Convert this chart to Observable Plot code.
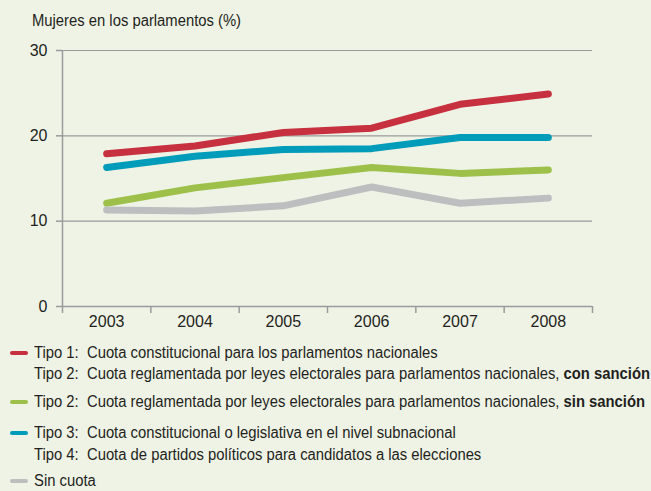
<!DOCTYPE html>
<html>
<head>
<meta charset="utf-8">
<script src="https://cdn.jsdelivr.net/npm/d3@7"></script>
<script src="https://cdn.jsdelivr.net/npm/@observablehq/plot@0.6"></script>
<style>
  html, body { margin: 0; padding: 0; background: #eff3e6; }
  body { width: 651px; height: 491px; overflow: hidden; position: relative;
         font-family: "Liberation Sans", Arial, sans-serif; color: #231f20; }
  #title { position: absolute; left: 32px; top: 12px; font-size: 16px; white-space: nowrap; transform-origin: 0 50%; }
  #chart { position: absolute; left: 0; top: 0; }
  .row { position: absolute; left: 10px; font-size: 16px; white-space: nowrap; display: flex; align-items: center; }
  .sw { display: inline-block; width: 18px; height: 4px; border-radius: 2px; margin-right: 6px; }
  .txt { display: inline-block; transform-origin: 0 50%; }
  b { font-weight: bold; }
</style>
</head>
<body>
<div id="chart"></div>
<div id="title">Mujeres en los parlamentos (%)</div>
<div id="legend"></div>
<script>
const years = [2003, 2004, 2005, 2006, 2007, 2008];
const tipo1 = [17.9, 18.8, 20.4, 20.9, 23.7, 24.9];
const tipo3 = [16.3, 17.6, 18.4, 18.5, 19.8, 19.8];
const tipo2sin = [12.1, 13.9, 15.1, 16.3, 15.6, 16.0];
const sinCuota = [11.3, 11.2, 11.8, 14.0, 12.1, 12.7];
const yTicks = [0, 10, 20, 30];

const series = [
  {key: "Tipo 1", values: tipo1, color: "#c6303f"},
  {key: "Tipo 3", values: tipo3, color: "#009cba"},
  {key: "Tipo 2 sin", values: tipo2sin, color: "#9dc04b"},
  {key: "Sin cuota", values: sinCuota, color: "#bdbec0"}
];
const data = series.flatMap(s => s.values.map((v, i) => ({year: years[i], value: v, key: s.key})));
const bounds = [...years.map(y => y - 0.5), years[years.length - 1] + 0.5];

const legendRows = [
  {color: "#c6303f", text: "Tipo 1:&nbsp; Cuota constitucional para los parlamentos nacionales"},
  {color: null, text: "Tipo 2:&nbsp; Cuota reglamentada por leyes electorales para parlamentos nacionales, <b>con sanción</b>"},
  {color: "#9dc04b", text: "Tipo 2:&nbsp; Cuota reglamentada por leyes electorales para parlamentos nacionales, <b>sin sanción</b>"},
  {color: "#009cba", text: "Tipo 3:&nbsp; Cuota constitucional o legislativa en el nivel subnacional"},
  {color: null, text: "Tipo 4:&nbsp; Cuota de partidos políticos para candidatos a las elecciones"},
  {color: "#bdbec0", text: "Sin cuota"}
];
const legendTops = [344, 365, 393, 424, 446, 472];

const chart = Plot.plot({
  width: 651,
  height: 345,
  marginTop: 50,
  marginBottom: 39,
  marginLeft: 62,
  marginRight: 59,
  style: {background: "transparent", fontSize: "16px", fontFamily: "'Liberation Sans', Arial, sans-serif", color: "#231f20", overflow: "visible"},
  x: {type: "linear", domain: [years[0] - 0.5, years[years.length - 1] + 0.5]},
  y: {domain: [0, 30]},
  color: {domain: series.map(s => s.key), range: series.map(s => s.color)},
  marks: [
    Plot.ruleY([10, 20, 30], {stroke: "#9a9a9a", strokeWidth: 1.2}),
    Plot.ruleY([0], {stroke: "#9a9a9a", strokeWidth: 1.5}),
    Plot.ruleX([bounds[0]], {y1: 0, y2: 30, stroke: "#9a9a9a", strokeWidth: 1.5}),
    Plot.axisY({ticks: yTicks, tickSize: 6, tickPadding: 9, stroke: "#9a9a9a", strokeWidth: 1.5, tickFormat: d => d, label: null, fill: "#231f20"}),
    Plot.axisX({ticks: bounds, tickSize: 7, tickFormat: () => "", stroke: "#9a9a9a", strokeWidth: 1.5, label: null}),
    Plot.axisX({ticks: years, tickSize: 0, tickPadding: 9, tickFormat: d => String(d), label: null, fill: "#231f20"}),
    Plot.line(data, {x: "year", y: "value", z: "key", stroke: "key", strokeWidth: 7, strokeLinecap: "round", strokeLinejoin: "round"})
  ]
});
document.getElementById("chart").appendChild(chart);

const legend = document.getElementById("legend");
const txts = [];
legendRows.forEach((r, i) => {
  const div = document.createElement("div");
  div.className = "row";
  div.style.top = legendTops[i] + "px";
  div.innerHTML = `<span class="sw" style="background:${r.color || "transparent"}"></span><span class="txt">${r.text}</span>`;
  legend.appendChild(div);
  txts.push(div.querySelector(".txt"));
});
// condense text horizontally to mimic the narrow typeface
const widest = txts[1].getBoundingClientRect().width;
const s = 616 / widest;
txts.forEach(t => t.style.transform = `scaleX(${s})`);
document.getElementById("title").style.transform = `scaleX(${s})`;
</script>
</body>
</html>
